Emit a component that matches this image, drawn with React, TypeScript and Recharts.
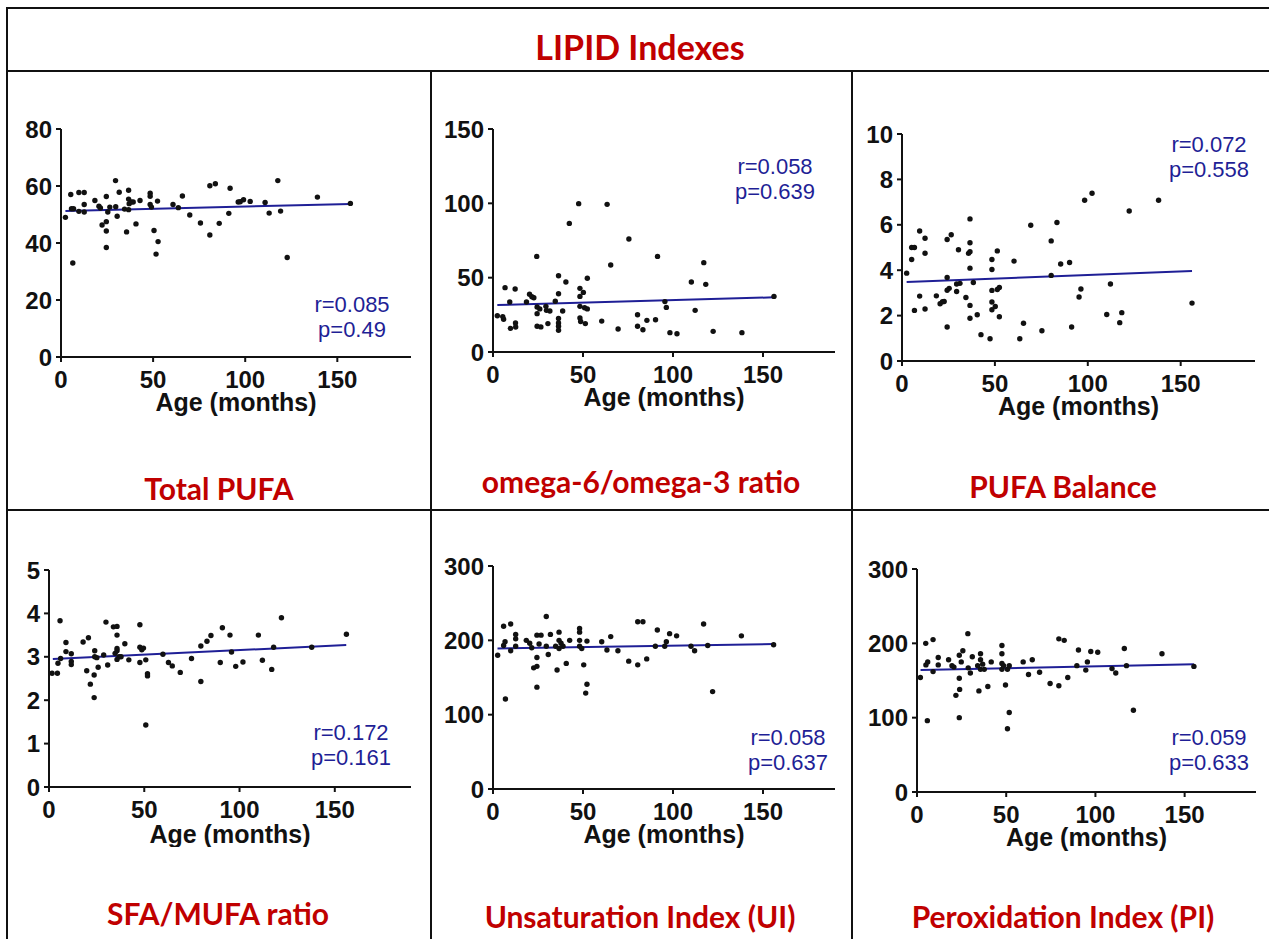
import { Scatter, ScatterChart, XAxis, YAxis } from 'recharts'

type Pt = [number, number]

const TITLE = 'LIPID Indexes'
const X_LABEL = 'Age (months)'
const AGE_TICKS = [0, 50, 100, 150]
const AGE_DOMAIN: [number, number] = [0, 190]

// [age in months, value]
const totalPufa: Pt[] = [
  [2.4, 49], [5.3, 57], [5.7, 52], [6.8, 52], [6.4, 33], [9.7, 57.7], [9.7, 51.1], [12.6, 57.7], [12.6, 53.5], [12.6, 50.9],
  [18.4, 54.9], [20.6, 52.9], [21.4, 52.3], [22.3, 46.3], [24.6, 56.3], [24.6, 47.5], [24.6, 44.2], [24.6, 38.4], [25.4, 50.9], [26.5, 52.6],
  [29.6, 61.9], [29.7, 52.7], [30.5, 49.4], [31.6, 57.8], [34.5, 51.9], [35.6, 43.9], [36.7, 58.5], [36.7, 55.4], [36.7, 51.7], [37, 53.8],
  [38.1, 54.4], [39.2, 54.4], [40.7, 46.7], [42.9, 54.9], [48.4, 57.5], [48.4, 56.4], [48.4, 53.5], [49.1, 52.6], [50.5, 44.4], [51.6, 36.1],
  [52.4, 54.7], [52.7, 40.5], [60.8, 53.5], [63.7, 52.4], [65.9, 56.5], [69.9, 49.8], [75.7, 47], [80.8, 60.1], [80.8, 42.8], [83.8, 60.8],
  [85.9, 46.9], [91.1, 50.4], [91.8, 59.2], [96.2, 54.4], [97.3, 54.5], [99.1, 55.2], [102.7, 54.6], [110.8, 54.2], [113, 50.5], [117.7, 61.9],
  [119.2, 51.2], [122.8, 34.9], [139.2, 56.1], [157.1, 53.9],
]
const totalPufaFit: Pt[] = [[2.4, 51.2], [157.1, 53.7]]

const omegaRatio: Pt[] = [
  [2.4, 24.4], [6.7, 43.3], [5.4, 23.8], [5.9, 22], [9.3, 33.6], [9.7, 15.9], [12.3, 42.4], [12.5, 19.5], [12.6, 16.8], [18.6, 33.6],
  [20.3, 38.8], [21.6, 37.2], [22.7, 36.5], [24.3, 64.3], [24.5, 25.8], [24.5, 30.3], [24.5, 17.3], [26, 29], [26.6, 16.9], [29.4, 30.7],
  [29.7, 28], [30.5, 19.1], [31.6, 27.6], [34.6, 34.1], [36.4, 51.3], [36.4, 39.2], [36.4, 22.6], [36.4, 19.5], [36.4, 17.3], [36.4, 14.6],
  [38.7, 27.6], [40.5, 47.1], [42.4, 86.5], [47.6, 99.8], [48.3, 42.8], [48.3, 37.4], [48.3, 30.7], [48.3, 22.9], [48.7, 20.5], [50.2, 40.1],
  [50.9, 29.8], [51.3, 19.1], [52.4, 49.6], [52.4, 29], [60.4, 20.8], [63.4, 99.3], [65.4, 58.5], [69.5, 15.5], [75.5, 76], [80.3, 25.1],
  [80.3, 17.3], [83.3, 15], [85.5, 21.3], [90.3, 21.7], [91.4, 64.3], [95.5, 33.9], [96.3, 30], [98.3, 13], [102.2, 12.3], [110.2, 47.1],
  [112.3, 28], [117.1, 60.1], [118.2, 45.5], [122.3, 13.9], [138.3, 13], [156.1, 37.4],
]
const omegaRatioFit: Pt[] = [[2.4, 31.6], [156.1, 36.8]]

const pufaBalance: Pt[] = [
  [2.5, 3.87], [5.2, 4.47], [5.2, 5.0], [6.7, 5.0], [6.7, 2.23], [9.5, 5.73], [9.5, 2.86], [12.4, 5.41], [12.4, 4.75], [12.4, 2.29],
  [18.5, 2.87], [20.5, 2.52], [21.8, 2.61], [22.7, 2.62], [24.3, 5.35], [24.3, 3.68], [24.3, 3.12], [24.3, 1.5], [25.4, 3.2], [26.5, 5.56],
  [29.4, 3.06], [29.4, 3.39], [30.4, 4.9], [31.2, 3.42], [34.4, 2.8], [35.8, 4.74], [36.6, 6.26], [36.6, 5.21], [36.6, 4.81], [36.6, 4.09],
  [36.6, 2.45], [36.6, 1.88], [38.4, 3.46], [40.5, 2.04], [42.5, 1.16], [47.4, 0.98], [48.4, 4.47], [48.4, 4.03], [48.4, 3.11], [48.4, 2.6],
  [48.4, 2.26], [50.2, 2.4], [51.3, 4.85], [51.3, 3.15], [52.4, 3.24], [52.4, 1.95], [60.3, 4.4], [63.4, 0.98], [65.4, 1.66], [69.3, 5.98],
  [75.3, 1.33], [80.3, 5.29], [80.3, 3.77], [83.4, 6.1], [85.4, 4.27], [90.2, 4.34], [91.3, 1.5], [95.3, 2.82], [96.3, 3.17], [98.3, 7.08],
  [102.3, 7.39], [110.2, 2.05], [112.2, 3.39], [117.2, 1.69], [118.3, 2.13], [122.3, 6.61], [138.1, 7.08], [156.1, 2.55],
]
const pufaBalanceFit: Pt[] = [[2.5, 3.48], [156.1, 3.97]]

const sfaMufa: Pt[] = [
  [1.6, 2.62], [4.4, 2.62], [4.7, 2.85], [5.8, 3.83], [6.1, 2.96], [8.9, 3.33], [8.9, 3.12], [11.7, 3.07], [11.7, 2.89], [11.7, 2.82],
  [17.9, 3.34], [19.8, 2.68], [20.7, 3.44], [21.7, 2.37], [23.7, 2.58], [23.7, 2.06], [24, 3.14], [24, 3.0], [25.1, 2.98], [25.8, 2.76],
  [28.7, 3.04], [29.9, 3.8], [30.8, 2.81], [33.8, 3.69], [34.7, 3.08], [35.7, 3.7], [35.7, 3.5], [35.7, 3.19], [35.7, 3.14], [35.7, 2.94],
  [36.8, 3.0], [37.8, 3.0], [39.8, 3.3], [41.9, 2.93], [47.7, 3.74], [47.7, 3.22], [47.7, 2.87], [48.7, 3.16], [49.6, 3.2], [50.8, 1.43],
  [50.8, 2.93], [51.7, 2.61], [51.7, 2.56], [59.8, 3.06], [62.7, 2.87], [64.7, 2.79], [68.9, 2.64], [74.8, 2.96], [79.7, 3.25], [79.7, 2.43],
  [82.9, 3.36], [85, 3.49], [89.9, 2.87], [91, 3.67], [95, 3.5], [95.8, 3.11], [98, 2.78], [101.8, 2.88], [109.9, 3.5], [112, 2.92],
  [116.9, 2.71], [117.9, 3.22], [122, 3.9], [137.9, 3.22], [156.1, 3.52],
]
const sfaMufaFit: Pt[] = [[2, 2.95], [156, 3.27]]

const unsaturation: Pt[] = [
  [2.6, 180], [5.9, 219], [6.9, 121], [5.9, 193], [6.7, 198], [9.8, 222], [9.8, 186], [12.6, 208], [12.6, 202], [12.6, 192],
  [18.5, 200], [20.4, 196], [21.5, 190], [22.6, 163], [24.4, 165], [24.4, 177], [24.4, 137], [24.4, 207], [25.6, 195], [26.7, 207],
  [29.6, 232], [29.6, 192], [30.7, 181], [31.9, 208], [34.8, 192], [35.6, 160], [36.7, 211], [36.7, 200], [36.7, 189], [37.8, 196],
  [38.9, 192], [40.7, 169], [42.6, 200], [48.1, 216], [48.1, 211], [48.1, 200], [48.1, 192], [49.3, 189], [50.4, 167], [51.5, 129],
  [52.2, 141], [52.2, 199], [60.4, 198], [63.3, 187], [65.4, 205], [69.4, 186], [75.4, 172], [80.4, 225], [80.4, 167], [83.3, 225],
  [85.4, 175], [90.2, 192], [91.3, 214], [95.4, 192], [96.3, 198], [98.1, 209], [102, 206], [110, 192], [112, 186], [117, 222],
  [119.3, 193], [122, 131], [138, 206], [155.9, 194],
]
const unsaturationFit: Pt[] = [[2.5, 189], [156, 195]]

const peroxidation: Pt[] = [
  [1.9, 154], [4.9, 200], [5, 171], [6, 175], [5.8, 96], [9, 205], [9, 162], [11.9, 181], [11.9, 171], [17.7, 178],
  [19.6, 170], [20.7, 168], [21.8, 130], [23.7, 184], [23.7, 153], [23.9, 138], [23.7, 100], [24.8, 175], [25.7, 190], [28.5, 213],
  [28.7, 167], [29.9, 160], [31, 182], [34, 170], [34.7, 136], [35.6, 186], [35.6, 178], [35.6, 165], [36.8, 172], [37.7, 165],
  [39.7, 142], [41.6, 175], [47.6, 197], [47.6, 186], [47.6, 173], [47.6, 165], [48.5, 170], [49.6, 144], [50.7, 165], [50.7, 85],
  [51.7, 170], [51.7, 107], [59.5, 175], [62.5, 158], [64.6, 178], [68.7, 161], [74.6, 146], [79.5, 206], [79.5, 143], [82.5, 204],
  [84.5, 154], [89.6, 170], [90.5, 191], [94.6, 164], [95.5, 175], [97.4, 189], [101.3, 188], [109.3, 166], [111.4, 160], [116.2, 193],
  [117.4, 170], [121.3, 110], [137.3, 186], [155.2, 169],
]
const peroxidationFit: Pt[] = [[2, 164], [155.2, 172]]

const CAPTIONS = ['Total PUFA', 'omega-6/omega-3 ratio', 'PUFA Balance', 'SFA/MUFA ratio', 'Unsaturation Index (UI)', 'Peroxidation Index (PI)']
const R_TEXT = ['r=0.085', 'r=0.058', 'r=0.072', 'r=0.172', 'r=0.058', 'r=0.059']
const P_TEXT = ['p=0.49', 'p=0.639', 'p=0.558', 'p=0.161', 'p=0.637', 'p=0.633']
const Y_TICKS = [
  [0, 20, 40, 60, 80],
  [0, 50, 100, 150],
  [0, 2, 4, 6, 8, 10],
  [0, 1, 2, 3, 4, 5],
  [0, 100, 200, 300],
  [0, 100, 200, 300],
]
const SERIES = [totalPufa, omegaRatio, pufaBalance, sfaMufa, unsaturation, peroxidation]
const FITS = [totalPufaFit, omegaRatioFit, pufaBalanceFit, sfaMufaFit, unsaturationFit, peroxidationFit]

// plot rectangles and text anchors on the page
const LAYOUT = [
  { left: 61, right: 411, top: 129, bottom: 357, labelDrop: 54, stat: [352, 312], cap: [219, 500] },
  { left: 493, right: 835, top: 129, bottom: 352, labelDrop: 54, stat: [775, 174], cap: [641, 493] },
  { left: 902, right: 1255, top: 134, bottom: 361, labelDrop: 54, stat: [1209, 152], cap: [1063, 498] },
  { left: 49, right: 411, top: 570, bottom: 787, labelDrop: 56, stat: [351, 740], cap: [218, 925] },
  { left: 493, right: 835, top: 566, bottom: 789, labelDrop: 54, stat: [788, 745], cap: [640, 928] },
  { left: 917, right: 1256, top: 569, bottom: 792, labelDrop: 54, stat: [1209, 745], cap: [1063, 928] },
]

const ARIAL = '"Liberation Sans", Arial, sans-serif'
const CALIBRI = 'Lato, "Noto Sans", sans-serif'
const INK = '#111'
const BLUE = '#1f1f96'
const RED = '#c00000'

const Y_W = 60
const PAD_T = 14
const PAD_R = 14
const X_H = 60

function Dot(props: { cx?: number; cy?: number }) {
  if (props.cx == null || props.cy == null) return <g />
  return <circle cx={props.cx} cy={props.cy} r={2.7} fill={INK} />
}

function Panel({ i }: { i: number }) {
  const box = LAYOUT[i]
  const ticks = Y_TICKS[i]
  const data = SERIES[i].map(([x, y]) => ({ x, y }))
  const fit = FITS[i].map(([x, y]) => ({ x, y }))
  const w = box.right - box.left + Y_W + PAD_R
  const h = box.bottom - box.top + PAD_T + X_H
  const axisStyle = { stroke: INK, strokeWidth: 2 }
  const tickStyle = { fill: INK, fontSize: 24, fontWeight: 700, fontFamily: ARIAL }
  return (
    <div style={{ position: 'absolute', left: box.left - Y_W, top: box.top - PAD_T }}>
      <ScatterChart width={w} height={h} margin={{ top: PAD_T, right: PAD_R, bottom: 0, left: 0 }}>
        <XAxis
          type="number"
          dataKey="x"
          domain={AGE_DOMAIN}
          ticks={AGE_TICKS}
          interval={0}
          allowDataOverflow
          height={X_H}
          tickSize={5}
          tickMargin={9}
          axisLine={axisStyle}
          tickLine={axisStyle}
          tick={tickStyle}
          label={{ value: X_LABEL, position: 'insideBottom', offset: X_H - box.labelDrop, fill: INK, fontSize: 25, fontWeight: 700, fontFamily: ARIAL }}
        />
        <YAxis
          type="number"
          dataKey="y"
          domain={[0, ticks[ticks.length - 1]]}
          ticks={ticks}
          interval={0}
          allowDataOverflow
          width={Y_W}
          tickSize={5}
          tickMargin={4}
          axisLine={axisStyle}
          tickLine={axisStyle}
          tick={tickStyle}
        />
        <Scatter data={fit} line={{ stroke: BLUE, strokeWidth: 2 }} shape={() => <g />} isAnimationActive={false} />
        <Scatter data={data} shape={Dot} isAnimationActive={false} />
      </ScatterChart>
    </div>
  )
}

export default function App() {
  return (
    <div style={{ position: 'absolute', left: 0, top: 0, width: 1269, height: 939, background: '#fff', overflow: 'hidden' }}>
      <svg width={1269} height={939} style={{ position: 'absolute', left: 0, top: 0 }}>
        <g stroke={INK} strokeWidth={2}>
          <line x1={7} y1={8} x2={1269} y2={8} />
          <line x1={7} y1={7} x2={7} y2={939} />
          <line x1={7} y1={71} x2={1269} y2={71} />
          <line x1={7} y1={510} x2={1269} y2={510} />
          <line x1={431} y1={71} x2={431} y2={939} />
          <line x1={852} y1={71} x2={852} y2={939} />
        </g>
        <text x={640} y={60} textAnchor="middle" fill={RED} fontFamily={CALIBRI} fontWeight={700} fontSize={34}>
          {TITLE}
        </text>
        {LAYOUT.map((b, i) => (
          <g key={i}>
            <text x={b.cap[0]} y={b.cap[1]} textAnchor="middle" fill={RED} fontFamily={CALIBRI} fontWeight={700} fontSize={30}>
              {CAPTIONS[i]}
            </text>
            <text x={b.stat[0]} y={b.stat[1]} textAnchor="middle" fill={BLUE} fontFamily={ARIAL} fontSize={22}>
              {R_TEXT[i]}
            </text>
            <text x={b.stat[0]} y={b.stat[1] + 25} textAnchor="middle" fill={BLUE} fontFamily={ARIAL} fontSize={22}>
              {P_TEXT[i]}
            </text>
          </g>
        ))}
      </svg>
      {LAYOUT.map((_, i) => (
        <Panel key={i} i={i} />
      ))}
    </div>
  )
}
